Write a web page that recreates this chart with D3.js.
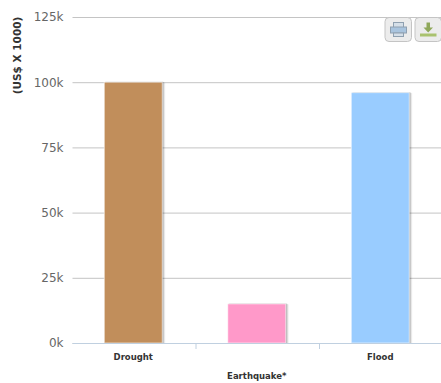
<!DOCTYPE html>
<html>
<head>
<meta charset="utf-8">
<script src="https://cdnjs.cloudflare.com/ajax/libs/d3/7.8.5/d3.min.js"></script>
<style>
  html, body { margin: 0; padding: 0; background: #fff; }
  svg { display: block; }
  text { font-family: "DejaVu Sans", sans-serif; }
</style>
</head>
<body>
<svg></svg>
<script>
var categories = ["Drought", "Earthquake*", "Flood"];
var values = [100000, 15000, 96000];
var barColors = ["#c18e5b", "#ff99c9", "#99ccff"];
var yTicks = [0, 25000, 50000, 75000, 100000, 125000];
var yTitle = "(US$ X 1000)";

var svgWidth = 441, svgHeight = 383;
var plotLeft = 72.5, plotRight = 443, plotTop = 17, plotBottom = 343;

var svg = d3.select('svg')
  .attr('width', svgWidth)
  .attr('height', svgHeight);

var xScale = d3.scaleBand()
  .domain(categories)
  .range([plotLeft, plotRight])
  .paddingInner(0)
  .paddingOuter(0);

var yScale = d3.scaleLinear()
  .domain([0, 125000])
  .range([plotBottom, plotTop]);

// gridlines and value labels
var yAxis = d3.axisLeft(yScale)
  .tickValues(yTicks)
  .tickSize(-(plotRight - plotLeft))
  .tickPadding(9)
  .tickFormat(function(d){ return (d / 1000) + "k"; });

var yGroup = svg.append('g')
  .attr('class', 'yaxis')
  .attr('transform', 'translate(' + plotLeft + ',0)')
  .call(yAxis);

yGroup.select('.domain').remove();
yGroup.selectAll('.tick line')
  .attr('stroke', '#c4c4c4')
  .attr('stroke-width', 1);
yGroup.selectAll('.tick text')
  .attr('fill', '#666')
  .style('font-size', '12px');

svg.append('text')
  .attr('transform', 'translate(21,55.5)rotate(-90)')
  .attr('text-anchor', 'middle')
  .attr('fill', '#333')
  .style('font-size', '10.5px')
  .style('font-weight', 'bold')
  .text(yTitle);

// bars, with the soft offset shadow drawn first
var barWidth = 58;

function barX(d) {
  return xScale(d) + (xScale.bandwidth() - barWidth) / 2 - 1;
}

var shadows = svg.append('g').attr('class', 'shadows');
[3, 2, 1].forEach(function(off, k){
  shadows.selectAll('rect.s' + k)
    .data(categories)
    .enter()
    .append('rect')
    .attr('class', 's' + k)
    .attr('x', function(d){ return barX(d) + off; })
    .attr('y', function(d, i){ return yScale(values[i]) - 1 + off * 0.5; })
    .attr('width', barWidth)
    .attr('height', function(d, i){ return plotBottom - yScale(values[i]) + 1 - off * 0.5; })
    .attr('fill', '#000')
    .attr('opacity', 0.06 * (k + 1));
});

svg.append('g').attr('class', 'bars')
  .selectAll('rect')
  .data(categories)
  .enter()
  .append('rect')
  .attr('x', barX)
  .attr('y', function(d, i){ return yScale(values[i]); })
  .attr('width', barWidth)
  .attr('height', function(d, i){ return plotBottom - yScale(values[i]); })
  .attr('fill', function(d, i){ return barColors[i]; })
  .attr('stroke', '#fff')
  .attr('stroke-opacity', 0.6)
  .attr('stroke-width', 1);

// category axis: ticks sit on band edges, every second label drops a line
var xAxis = d3.axisBottom(xScale).tickSize(0).tickPadding(8);

var xGroup = svg.append('g')
  .attr('class', 'xaxis')
  .attr('transform', 'translate(-1,' + plotBottom + ')')
  .call(xAxis);

xGroup.select('.domain')
  .attr('stroke', '#c0d0e0')
  .attr('d', 'M' + (plotLeft + 1) + ',0.5H' + (plotRight + 1));

xGroup.selectAll('.tick text')
  .attr('fill', '#333')
  .attr('y', function(d, i){ return i % 2 ? 30 : 11; })
  .style('font-size', '8.5px')
  .style('font-weight', 'bold');

xGroup.selectAll('line.sep')
  .data(categories.slice(1))
  .enter()
  .append('line')
  .attr('class', 'sep')
  .attr('x1', function(d){ return xScale(d) + 1; })
  .attr('x2', function(d){ return xScale(d) + 1; })
  .attr('y1', 0)
  .attr('y2', 6)
  .attr('stroke', '#c0d0e0');

// export buttons, top right
var buttonX = [385, 415];
var buttons = svg.append('g').attr('class', 'buttons');

buttonX.forEach(function(bx, i){
  var b = buttons.append('g').attr('transform', 'translate(' + bx + ',17.5)');
  b.append('rect')
    .attr('width', 26.5).attr('height', 24).attr('rx', 4)
    .attr('fill', '#ececec').attr('stroke', '#c4c4c4');
  if (i === 0) {
    b.append('rect').attr('x', 8.5).attr('y', 5).attr('width', 10).attr('height', 5)
      .attr('fill', '#d5dfe8').attr('stroke', '#8fa0b0');
    b.append('rect').attr('x', 5.5).attr('y', 9.5).attr('width', 16).attr('height', 6)
      .attr('fill', '#a9c4de').attr('stroke', '#8fa0b0');
    b.append('rect').attr('x', 8.5).attr('y', 15.5).attr('width', 10).attr('height', 3.5)
      .attr('fill', '#d5dfe8').attr('stroke', '#8fa0b0');
  } else {
    b.append('path').attr('d', 'M11.5,5H15V10H18L13.2,15L8.5,10H11.5Z')
      .attr('fill', '#8fa85a');
    b.append('rect').attr('x', 5).attr('y', 16).attr('width', 16.5).attr('height', 3)
      .attr('fill', '#a9c26e');
  }
});
</script>
</body>
</html>
